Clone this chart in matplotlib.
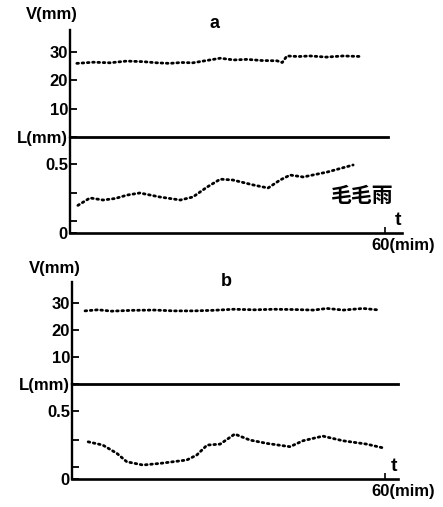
import matplotlib.pyplot as plt

# figure size in pixels (dpi 100)
W, H = 443, 507

# panel a: V (mm) trace, upper part
a_v_t = [1.3, 4.5, 7.6, 10.8, 13.9, 16.5, 19.0, 21.2, 23.4, 26.0, 28.6,
         31.2, 33.7, 36.5, 39.4, 40.4, 41.3, 43.5, 45.7, 48.8, 52.0, 55.6]
a_v = [26.0, 26.4, 26.2, 26.8, 26.6, 26.2, 26.0, 26.3, 26.2, 27.0, 27.8,
       27.2, 27.4, 27.0, 26.9, 26.3, 28.6, 28.4, 28.6, 28.2, 28.6, 28.4]

# panel a: L (mm) trace, lower part (drizzle)
a_l_t = [1.5, 3.8, 6.3, 8.6, 10.9, 13.3, 17.1, 21.0, 23.4, 26.1, 28.6,
         31.0, 34.9, 37.7, 40.0, 41.9, 44.4, 49.0, 53.9]
a_l = [0.20, 0.254, 0.239, 0.25, 0.275, 0.29, 0.261, 0.239, 0.261, 0.333, 0.39,
       0.384, 0.348, 0.326, 0.384, 0.42, 0.406, 0.442, 0.493]

# panel b: V (mm) trace
b_v_t = [2.5, 5.0, 7.6, 11.5, 15.8, 19.5, 23.4, 27.0, 31.0, 35.0, 38.7,
         42.5, 46.3, 48.9, 52.0, 55.8, 59.0]
b_v = [27.1, 27.5, 27.0, 27.3, 27.4, 27.1, 27.1, 27.3, 27.7, 27.5, 27.7,
       27.6, 27.4, 28.0, 27.4, 28.0, 27.4]

# panel b: L (mm) trace
b_l_t = [3.1, 5.9, 8.6, 10.5, 13.6, 16.9, 22.0, 23.9, 25.9, 28.4, 31.2,
         34.1, 37.4, 41.8, 44.3, 48.1, 51.9, 56.5, 60.0]
b_l = [0.274, 0.25, 0.189, 0.127, 0.103, 0.115, 0.14, 0.176, 0.25, 0.257, 0.331,
       0.287, 0.262, 0.238, 0.282, 0.316, 0.282, 0.257, 0.226]

v_ticks = [0, 10, 20, 30]
v_labels = ['L(mm)', '10', '20', '30']
l_ticks = [0, 0.085, 0.29, 0.5]
l_labels = ['0', '', '', '0.5']

plt.rcParams['font.family'] = ['Liberation Sans', 'Noto Sans CJK SC']
plt.rcParams['font.weight'] = 'bold'
plt.rcParams['font.size'] = 12

fig = plt.figure(figsize=(W / 100, H / 100), dpi=100)


def frac(x, y):
    return x / W, 1 - y / H


def panel(g, vt, vv, lt, lv, name):
    left, right = g['x0'], g['x1']
    fw = (right - left) / W
    # upper V axes
    x, y = frac(left, g['mid'])
    ax_v = fig.add_axes([x, y, fw, (g['mid'] - g['top']) / H])
    # lower L axes
    x, y = frac(left, g['bot'])
    ax_l = fig.add_axes([x, y, fw, (g['bot'] - g['mid']) / H])

    for ax in (ax_v, ax_l):
        ax.set_xlim(0, g['tmax'])
        ax.patch.set_alpha(0)
        ax.spines['right'].set_visible(False)
        ax.spines['top'].set_visible(False)
        ax.spines['left'].set_linewidth(1.7)
        ax.tick_params(axis='y', direction='in', length=5, width=1.3, pad=1.5)
        ax.set_xticks([])

    ax_v.set_ylim(0, g['vmax'])
    ax_v.spines['bottom'].set_linewidth(2.0)
    ax_v.spines['bottom'].set_bounds(0, g['lend'])
    ax_v.set_yticks(v_ticks, v_labels)

    ax_l.set_ylim(0, g['lmax'])
    ax_l.spines['bottom'].set_linewidth(1.9)
    ax_l.set_yticks(l_ticks, l_labels)
    ax_l.set_xticks([60], [''])
    ax_l.tick_params(axis='x', direction='in', length=4, width=1.2)

    dots = dict(color='black', lw=2.0, ls=(0, (0.6, 1.3)),
                dash_capstyle='round', clip_on=False)
    ax_v.plot(vt, vv, **dots)
    ax_l.plot(lt, lv, **dots)

    # texts
    fig.text(*frac(g['vx'], g['vy']), 'V(mm)', ha='left', va='center')
    fig.text(*frac(g['nx'], g['ny']), name, ha='center', va='center', fontsize=13)
    ax_l.text(g['tmax'] - 0.8, 0.03, 't', ha='center', va='bottom', fontsize=14)
    ax_l.text(57.3, -0.035, '60(mim)', ha='left', va='top')
    return ax_v, ax_l


geo_a = dict(x0=70, x1=402, top=30, mid=137.5, bot=233, tmax=63.2,
             vmax=37.7, lmax=0.692, lend=60.5, vx=26, vy=15, nx=215, ny=23)
geo_b = dict(x0=72, x1=398, top=282, mid=384, bot=479, tmax=62.5,
             vmax=37.8, lmax=0.70, lend=62.5, vx=29, vy=268, nx=226, ny=281)

ax_va, ax_la = panel(geo_a, a_v_t, a_v, a_l_t, a_l, 'a')
ax_la.text(55.7, 0.275, '毛毛雨', ha='center', va='center', fontsize=15,
           family=['Noto Sans CJK SC'])
panel(geo_b, b_v_t, b_v, b_l_t, b_l, 'b')

fig.savefig('out.png', dpi=100)
